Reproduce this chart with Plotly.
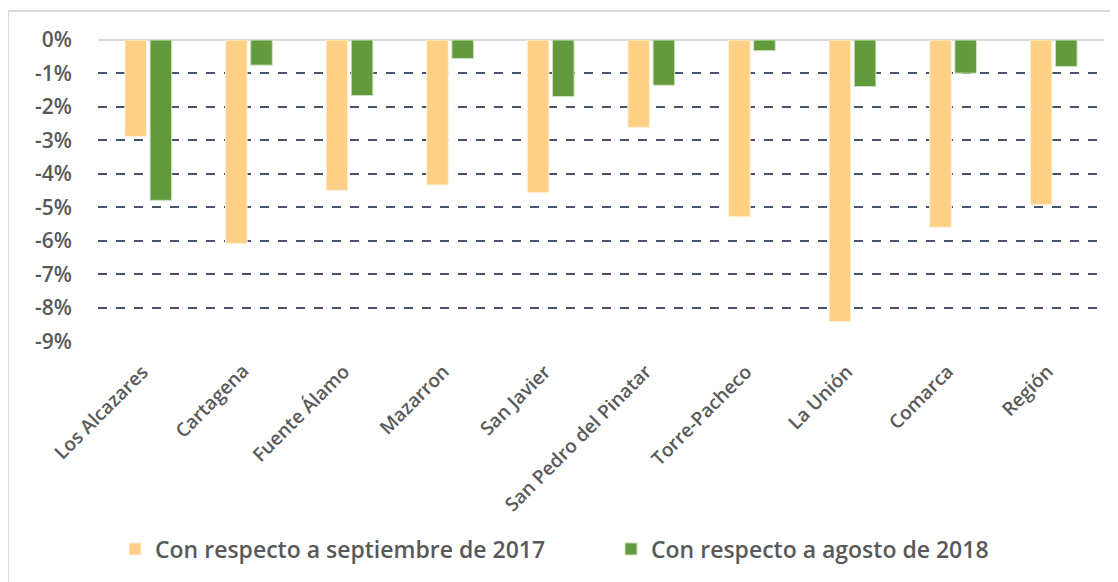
import plotly.graph_objects as go

# datos (variación en %)
municipios = ["Los Alcazares", "Cartagena", "Fuente Álamo", "Mazarron", "San Javier",
              "San Pedro del Pinatar", "Torre-Pacheco", "La Unión", "Comarca", "Región"]
sept_2017 = [-2.88, -6.08, -4.49, -4.33, -4.56, -2.61, -5.28, -8.41, -5.59, -4.92]
ago_2018 = [-4.79, -0.75, -1.66, -0.55, -1.69, -1.35, -0.32, -1.39, -0.99, -0.79]
nombres = ["Con respecto a septiembre de 2017", "Con respecto a agosto de 2018"]
y_ticks = [0, -1, -2, -3, -4, -5, -6, -7, -8, -9]
y_text = ["0%", "-1%", "-2%", "-3%", "-4%", "-5%", "-6%", "-7%", "-8%", "-9%"]

fuente = "Open Sans"
gris = "#595959"

fig = go.Figure()
fig.add_trace(go.Bar(x=municipios, y=sept_2017, name=nombres[0],
                     marker=dict(color="#ffd085", line=dict(color="#fff3dc", width=1))))
fig.add_trace(go.Bar(x=municipios, y=ago_2018, name=nombres[1],
                     marker=dict(color="#639a3d", line=dict(color="#cfe3c0", width=1))))

# la pagina tiene 8px de margen en el body: todo en coordenadas de la figura
OFF = 8
W, H = 1118 - OFF, 582 - OFF
L, T = 98 - OFF, 40 - OFF
R, B = W - (1104 - OFF), H - (342 - OFF)
pw, ph = W - L - R, H - T - B

# etiquetas del eje x como anotaciones giradas (para colocarlas como en el original)
for m in municipios:
    fig.add_annotation(x=m, xref="x", y=0, yref="paper", text=m, showarrow=False,
                       textangle=-45, xanchor="right", yanchor="top", xshift=8, yshift=-14,
                       font=dict(family=fuente, size=19, color=gris, weight=600))

fig.update_layout(
    width=W, height=H,
    margin=dict(l=L, r=R, t=T, b=B, autoexpand=False),
    paper_bgcolor="white", plot_bgcolor="white",
    barmode="group", bargap=0.5, bargroupgap=0.14,
    showlegend=True,
    legend=dict(orientation="h", x=(115 - 98) / pw, xanchor="left",
                y=-(549 - 342) / ph, yanchor="middle",
                font=dict(family=fuente, size=23, color=gris, weight=600),
                itemwidth=30, entrywidth=451, entrywidthmode="pixels"),
    xaxis=dict(range=[-0.5, len(municipios) - 0.5], showticklabels=False,
               showline=False, ticks=""),
    yaxis=dict(range=[-9.02, 0], tickvals=y_ticks, ticktext=y_text,
               showgrid=True, gridcolor="#44546a", gridwidth=2, griddash="dash",
               zeroline=True, zerolinecolor="#d9d9d9", zerolinewidth=2,
               tickfont=dict(family=fuente, size=21, color=gris, weight=600),
               ticklabelstandoff=25),
    shapes=[dict(type="rect", xref="paper", yref="paper",
                 x0=(0 - L) / pw, x1=(W + 5 - L) / pw,
                 y0=-(H + 5 - ph - T) / ph, y1=1 + (T - 3) / ph,
                 line=dict(color="#d9d9d9", width=2), layer="below")],
)

fig.write_html("out.html")
